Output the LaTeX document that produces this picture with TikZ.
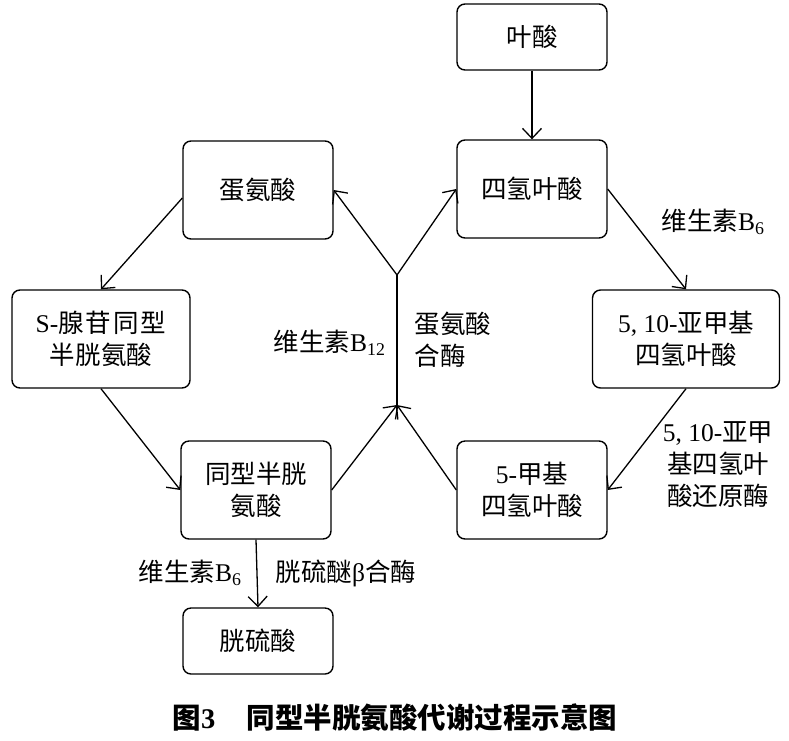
\documentclass[tikz,border=0pt]{standalone}
\usepackage{fontspec}
\setmainfont{Liberation Serif}
\newfontfamily\cjk{Noto Sans CJK SC}
\usetikzlibrary{arrows.meta}
\newcommand{\latn}[1]{{\rmfamily #1}}

\begin{document}
\begin{tikzpicture}[x=1pt, y=-1pt, font=\cjk\fontsize{25.5}{32}\selectfont,
    >={Straight Barb[length=10pt,width=19pt]},
    box/.style={draw, line width=1.4pt, rounded corners=8pt, align=center,
      minimum width=150pt, minimum height=98pt, inner sep=2pt},
    smallbox/.style={box, minimum height=66pt},
    arrow/.style={->, line width=1.3pt},
    caption/.style={font=\cjk\bfseries\fontsize{28.5}{32}\selectfont} ]

    \useasboundingbox (0,0) rectangle (789,740);

    % boxes
    \node[smallbox] (fa) at (532,37) {叶酸};
    \node[box] (thf) at (532,189) {四氢叶酸};
    \node[box] (met) at (258,190) {蛋氨酸};
    \node[box, minimum width=178pt] (sah) at (101,339)
      {\latn{S-}腺\hspace{2pt}苷\hspace{2pt}同\hspace{2pt}型\\半胱氨酸};
    \node[box, minimum width=187pt] (mthf) at (686,339) {\latn{5, 10-}亚甲基\\四氢叶酸};
    \node[box] (hcy) at (256,490) {同型半胱\\氨酸};
    \node[box] (mfa) at (532,490) {\latn{5-}甲基\\四氢叶酸};
    \node[smallbox] (cys) at (258,641) {胱硫酸};

    \coordinate (low) at (397,405);
    \coordinate (up) at (397,275);

    % arrows
    \draw[arrow] (fa.south) -- (thf.north);
    \draw[arrow] (thf.east) -- (mthf.north);
    \draw[arrow] (mthf.south) -- (mfa.east);
    \draw[arrow] (mfa.west) -- (low);
    \draw[arrow] (hcy.east) -- (low);
    \draw[line width=1.3pt] (low) -- (up);
    \draw[arrow] (up) -- (met.east);
    \draw[arrow] (up) -- (thf.west);
    \draw[arrow] ([yshift=-8pt]met.west) -- (sah.north);
    \draw[arrow] (sah.south) -- (hcy.west);
    \draw[arrow] (hcy.south) -- (cys.north);

    % labels
    \node[anchor=west] (vb6a) at (658,222) {维生素\latn{B\textsubscript{6}}};
    \node[anchor=east] (vb12) at (389,343) {维生素\latn{B\textsubscript{12}}};
    \node[anchor=west, align=left] (ms) at (411,340) {蛋氨酸\\合酶};
    \node[align=center] (mtr) at (718,465) {\latn{5, 10-}亚甲\\基四氢叶\\酸还原酶};
    \node[anchor=east] (vb6b) at (245,573) {维生素\latn{B\textsubscript{6}}};
    \node[anchor=west] (cbs) at (272,573) {胱硫醚\latn{β}合酶};

    \node[caption] (cap) at (395,718) {图\latn{3}\hspace{1.1em}同型半胱氨酸代谢过程示意图};

  \end{tikzpicture}
\end{document}
